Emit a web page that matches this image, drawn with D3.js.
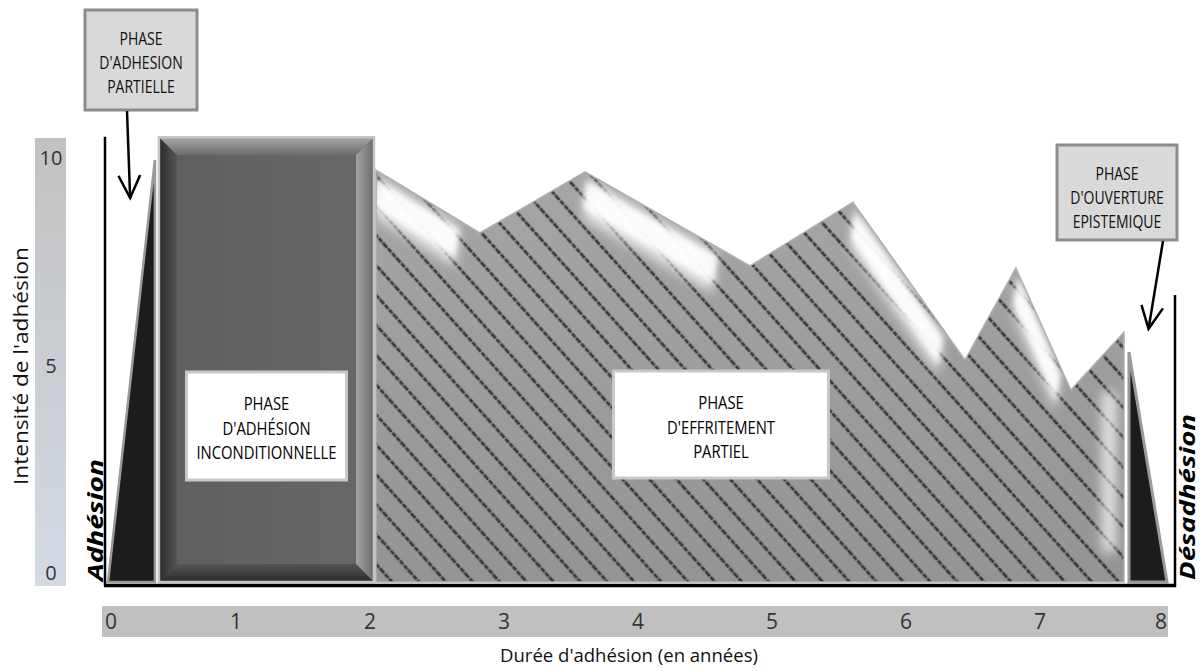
<!DOCTYPE html>
<html><head><meta charset="utf-8">
<script src="https://cdn.jsdelivr.net/npm/d3@7"></script>
<style>body{margin:0;background:#fff}svg{display:block}</style>
</head><body>
<svg id="c" width="1200" height="671"></svg>
<script>
// ---- data ----
const xTicks = [0,1,2,3,4,5,6,7,8];
const yTicks = [0,5,10];
const partialX = [0.045, 0.395];          // phase d'adhésion partielle (ramp)
const partialY = [0, 10];
const unconditionalX = [0.425, 2.03];     // phase d'adhésion inconditionnelle
const unconditionalY = 10.54;
const erosionX = [2.045, 2.82, 3.605, 4.836, 5.604, 6.44, 6.82, 7.23, 7.627];
const erosionY = [9.76, 8.27, 9.72, 7.49, 9.0, 5.26, 7.44, 4.55, 5.92];
const openingX = [7.664, 7.948];          // phase d'ouverture épistémique
const openingY = [5.45, 0];
const calloutPartial = ["PHASE","D'ADHESION","PARTIELLE"];
const calloutOpening = ["PHASE","D'OUVERTURE","EPISTEMIQUE"];
const labelUncond = ["PHASE","D'ADHÉSION","INCONDITIONNELLE"];
const labelErosion = ["PHASE","D'EFFRITEMENT","PARTIEL"];
const xTitle = "Durée d'adhésion (en années)";
const yTitle = "Intensité de l'adhésion";
const leftTag = "Adhésion", rightTag = "Désadhésion";

// ---- scales ----
const x = d3.scaleLinear().domain([0,8]).range([102,1174]);
const y = d3.scaleLinear().domain([0,10]).range([582,160]);
const yLab = d3.scaleLinear().domain([0,10]).range([573,158]);

const svg = d3.select('#c');
const FONT = "'Open Sans','Noto Sans',sans-serif";
const defs = svg.append('defs');

function lin(id, x1,y1,x2,y2, stops){
  const g = defs.append('linearGradient').attr('id',id)
    .attr('x1',x1).attr('y1',y1).attr('x2',x2).attr('y2',y2);
  stops.forEach(s=>g.append('stop').attr('offset',s[0]).attr('stop-color',s[1]));
}
lin('yband','0','0','0','1',[[0,'#c2c2c2'],[1,'#d2dae4']]);
lin('bevTop','0','0','0','1',[[0,'#a8a8a8'],[1,'#6c6c6c']]);
lin('bevLeft','0','0','1','0',[[0,'#2a2a2a'],[1,'#555']]);
lin('bevRight','0','0','1','0',[[0,'#a4a4a4'],[1,'#6a6a6a']]);
lin('bevBot','0','0','0','1',[[0,'#555'],[1,'#2a2a2a']]);
lin('face','0','0','1','0',[[0,'#5e5e5e'],[1,'#686868']]);
lin('mtnShade','0','0','0','1',[[0,'#a6a6a6'],[1,'#949494']]);

function blurFilter(id, sd){
  const f = defs.append('filter').attr('id',id).attr('filterUnits','userSpaceOnUse')
    .attr('x',0).attr('y',0).attr('width',1200).attr('height',671);
  f.append('feGaussianBlur').attr('stdDeviation',sd);
}
blurFilter('blur',6);
blurFilter('blur2',2.5);
blurFilter('blur3',0.6);

const pat = defs.append('pattern').attr('id','stripes')
  .attr('patternUnits','userSpaceOnUse').attr('width',20).attr('height',20)
  .attr('patternTransform','rotate(-42)');
pat.append('line').attr('x1',2).attr('x2',2).attr('y1',-2).attr('y2',22)
  .attr('stroke','#262626').attr('stroke-width',2.8).attr('stroke-opacity',0.85)
  .attr('stroke-dasharray','5,1.2');

// ---- y band & labels ----
svg.append('rect').attr('x',35).attr('y',138).attr('width',31).attr('height',448).attr('fill','url(#yband)');
svg.selectAll('.yt').data(yTicks).enter().append('text')
  .attr('x',51).attr('y',d=>yLab(d)).attr('dy','0.35em').attr('text-anchor','middle')
  .attr('font-family',FONT).attr('font-size',20).attr('fill','#333')
  .text(d=>d);
svg.append('text').attr('transform','translate(28,366) rotate(-90)')
  .attr('text-anchor','middle').attr('font-family',FONT).attr('font-size',20).attr('font-weight',500).attr('fill','#111')
  .attr('textLength',238).attr('lengthAdjust','spacingAndGlyphs').text(yTitle);

// ---- x band & labels ----
svg.append('rect').attr('x',102).attr('y',606).attr('width',1066).attr('height',31).attr('fill','#c0c0c0');
svg.selectAll('.xt').data(xTicks).enter().append('text')
  .attr('x',d=> d===0 ? x(0)+3 : d===8 ? x(8)-7 : x(d))
  .attr('y',622).attr('dy','0.35em')
  .attr('text-anchor',d=> d===0 ? 'start' : d===8 ? 'end' : 'middle')
  .attr('font-family',FONT).attr('font-size',21).attr('fill','#333')
  .text(d=>d);
svg.append('text').attr('x',629).attr('y',662).attr('text-anchor','middle')
  .attr('font-family',FONT).attr('font-size',19).attr('font-weight',500).attr('fill','#111')
  .attr('textLength',258).attr('lengthAdjust','spacingAndGlyphs').text(xTitle);

// ---- phase d'adhésion partielle (ramp) ----
const tri1 = [[x(partialX[0]),y(partialY[0])],[x(partialX[1]),y(partialY[1])],[x(partialX[1]),y(0)]];
svg.append('polygon').attr('points',tri1.map(p=>p.join(',')).join(' '))
  .attr('fill','#1c1c1c').attr('stroke','#9a9a9a').attr('stroke-width',2.5).attr('stroke-linejoin','miter');

// ---- phase d'adhésion inconditionnelle (bevelled block) ----
{
  const x0=x(unconditionalX[0]), x1=x(unconditionalX[1]), y0=y(unconditionalY), y1=y(0), b=18;
  const g = svg.append('g');
  g.append('rect').attr('x',x0).attr('y',y0).attr('width',x1-x0).attr('height',y1-y0).attr('fill','url(#face)');
  const poly=(pts,f)=>g.append('polygon').attr('points',pts.map(p=>p.join(',')).join(' ')).attr('fill',f);
  poly([[x0,y0],[x1,y0],[x1-b,y0+b],[x0+b,y0+b]],'url(#bevTop)');
  poly([[x0,y0],[x0+b,y0+b],[x0+b,y1-b],[x0,y1]],'url(#bevLeft)');
  poly([[x1,y0],[x1,y1],[x1-b,y1-b],[x1-b,y0+b]],'url(#bevRight)');
  poly([[x0,y1],[x0+b,y1-b],[x1-b,y1-b],[x1,y1]],'url(#bevBot)');
  g.append('rect').attr('x',x0).attr('y',y0).attr('width',x1-x0).attr('height',y1-y0)
    .attr('fill','none').attr('stroke','#c4c4c4').attr('stroke-width',2.5);
}

// ---- phase d'effritement partiel (mountain area) ----
const mtn = erosionX.map((v,i)=>({x:v,y:erosionY[i]}));
const area = d3.area().x(d=>x(d.x)).y0(y(0)).y1(d=>y(d.y));
defs.append('clipPath').attr('id','mclip').append('path').attr('d',area(mtn));
svg.append('path').attr('d',area(mtn)).attr('fill','url(#mtnShade)');
const mg = svg.append('g').attr('clip-path','url(#mclip)');
mg.append('rect').attr('x',0).attr('y',0).attr('width',1200).attr('height',671).attr('fill','url(#stripes)').attr('filter','url(#blur3)');
// highlight bands under descending slopes
const hl = [];
for(let i=0;i<mtn.length-1;i++){
  if(mtn[i+1].y < mtn[i].y){
    const a=mtn[i], c=mtn[i+1], t=0.8;
    const ax=x(a.x), ay=y(a.y), cx=x(a.x+(c.x-a.x)*t), cy=y(a.y+(c.y-a.y)*t);
    hl.push({ax,ay,cx,cy});
  }
}
const band=(d,o1,o2)=>[[d.ax+2,d.ay+o1],[d.cx,d.cy+o1],[d.cx-4,d.cy+o2],[d.ax-2,d.ay+o2]].map(p=>p.join(',')).join(' ');
const last = mtn[mtn.length-1];
const g1 = mg.append('g').attr('filter','url(#blur)').attr('opacity',0.75);
g1.selectAll('polygon').data(hl).enter().append('polygon').attr('points',d=>band(d,6,46)).attr('fill','#fff');
g1.append('rect').attr('x',x(last.x)-22).attr('y',y(last.y)+60).attr('width',14).attr('height',y(0)-y(last.y)-90).attr('fill','#fff');
const g2 = mg.append('g').attr('filter','url(#blur2)').attr('opacity',0.85);
g2.selectAll('polygon').data(hl).enter().append('polygon').attr('points',d=>band(d,10,36)).attr('fill','#fff');
svg.append('path').attr('d',area(mtn)).attr('fill','none').attr('stroke','#b0b0b0').attr('stroke-width',1.5);

// ---- phase d'ouverture épistémique (descending ramp) ----
const tri2 = [[x(openingX[0]),y(openingY[0])],[x(openingX[1]),y(openingY[1])],[x(openingX[0]),y(0)]];
svg.append('polygon').attr('points',tri2.map(p=>p.join(',')).join(' '))
  .attr('fill','#1c1c1c').attr('stroke','#9a9a9a').attr('stroke-width',3);

// ---- axes lines ----
svg.append('line').attr('x1',x(0)+3).attr('x2',x(0)+3).attr('y1',y(10.55)).attr('y2',y(0)+4)
  .attr('stroke','#000').attr('stroke-width',2.5);
svg.append('line').attr('x1',x(0)+2).attr('x2',x(8)+2).attr('y1',y(0)+3.5).attr('y2',y(0)+3.5)
  .attr('stroke','#000').attr('stroke-width',3.5);
svg.append('line').attr('x1',x(8)+1).attr('x2',x(8)+1).attr('y1',y(6.8)).attr('y2',y(0)+5)
  .attr('stroke','#000').attr('stroke-width',2.5);

// ---- side tags ----
svg.append('text').attr('transform',`translate(${x(0)+1},${y(0)-1}) rotate(-90)`)
  .attr('font-family',FONT).attr('font-size',22).attr('font-weight',700).attr('font-style','italic')
  .attr('fill','#000').attr('textLength',122).attr('lengthAdjust','spacingAndGlyphs').text(leftTag);
svg.append('text').attr('transform',`translate(${x(8)+21},${y(0)-2}) rotate(-90)`)
  .attr('font-family',FONT).attr('font-size',22).attr('font-weight',700).attr('font-style','italic')
  .attr('fill','#000').attr('textLength',166).attr('lengthAdjust','spacingAndGlyphs').text(rightTag);

// ---- inner white labels ----
function labelBox(cx, top, w, h, lines){
  svg.append('rect').attr('x',cx-w/2).attr('y',top).attr('width',w).attr('height',h)
    .attr('fill','#fff').attr('stroke','#c8c8c8').attr('stroke-width',3);
  const t = svg.append('text').attr('text-anchor','middle').attr('font-family',FONT)
    .attr('font-size',18.5).attr('font-weight',500).attr('fill','#000');
  lines.forEach((l,i)=>{
    const ts = t.append('tspan').attr('x',cx).attr('y',top+38+i*24.5).text(l);
    const L = ts.node().getComputedTextLength();
    ts.attr('textLength',L*0.8).attr('lengthAdjust','spacingAndGlyphs');
  });
}
labelBox((x(unconditionalX[0])+x(unconditionalX[1]))/2, 372, 160, 108, labelUncond);
labelBox(721, 371, 215, 107, labelErosion);

// ---- callouts with arrows ----
function callout(x0, y0, w, h, lines){
  svg.append('rect').attr('x',x0).attr('y',y0).attr('width',w).attr('height',h)
    .attr('fill','#d9d9d9').attr('stroke','#8c8c8c').attr('stroke-width',3);
  const t = svg.append('text').attr('text-anchor','middle').attr('font-family',FONT)
    .attr('font-size',17.5).attr('font-weight',500).attr('fill','#111');
  lines.forEach((l,i)=>{
    const ts = t.append('tspan').attr('x',x0+w/2).attr('y',y0+35+i*24).text(l);
    const L = ts.node().getComputedTextLength();
    ts.attr('textLength',L*0.8).attr('lengthAdjust','spacingAndGlyphs');
  });
}
callout(85, 10, 112, 100, calloutPartial);
callout(1057, 145, 120, 95, calloutOpening);

function arrow(xa, ya, xb, yb){
  svg.append('line').attr('x1',xa).attr('y1',ya).attr('x2',xb).attr('y2',yb)
    .attr('stroke','#000').attr('stroke-width',2.5);
  const ang = Math.atan2(yb-ya, xb-xa), L=25, s=0.45;
  const p1=[xb-L*Math.cos(ang-s), yb-L*Math.sin(ang-s)], p2=[xb-L*Math.cos(ang+s), yb-L*Math.sin(ang+s)];
  svg.append('path').attr('d',`M${p1}L${xb},${yb}L${p2}`).attr('fill','none')
    .attr('stroke','#000').attr('stroke-width',2.5).attr('stroke-linejoin','miter');
}
arrow(127, 111, x(0.21), y(9.1));
arrow(1163, 241, x(7.81), y(6.0));
</script>
</body></html>
